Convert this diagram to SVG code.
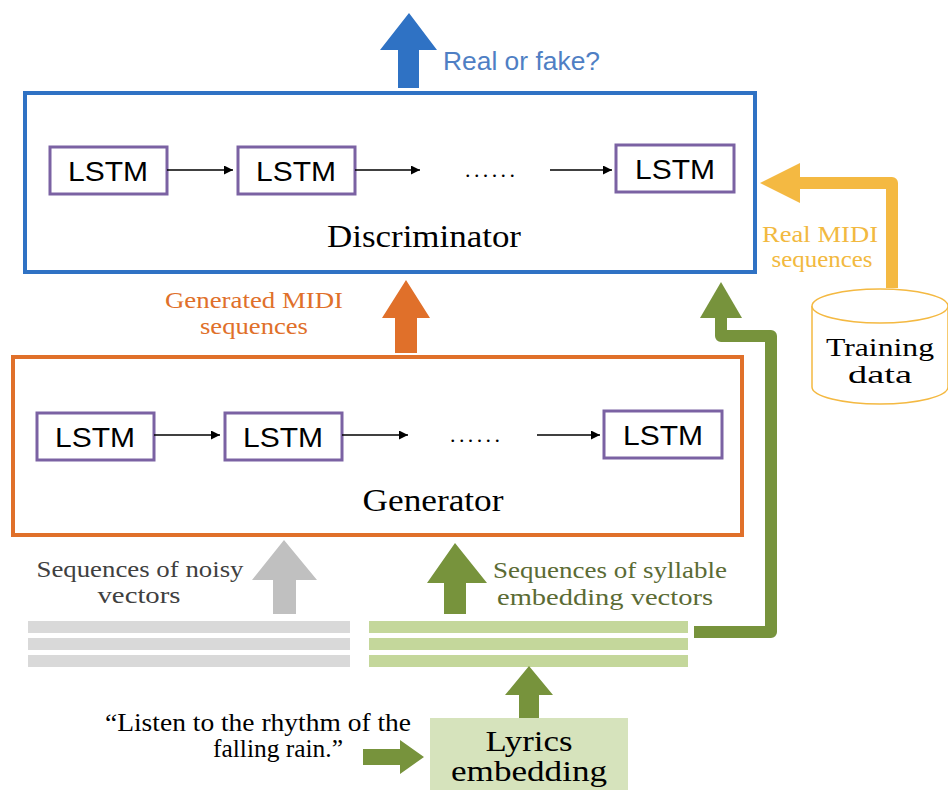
<svg xmlns="http://www.w3.org/2000/svg" width="948" height="790" viewBox="0 0 948 790">
<defs>
<marker id="ah" viewBox="0 0 10 10" refX="10" refY="5" markerWidth="9" markerHeight="9" markerUnits="userSpaceOnUse" orient="auto"><path d="M0,0 L10,5 L0,10 z" fill="#000"/></marker>
</defs>
<style>
.lstm{fill:#fff;stroke:#7b62a3;stroke-width:3}
.lt{font-family:"Liberation Sans",Arial,sans-serif;font-size:28px;fill:#000;text-anchor:middle}
.serif{font-family:"Liberation Serif","Times New Roman",serif}
.conn{stroke:#000;stroke-width:1.5;fill:none}
.dots{font-family:"Liberation Serif",serif;font-size:22px;text-anchor:middle}
.green{fill:#77933c}
.gline{fill:none;stroke:#77933c;stroke-width:12;stroke-linejoin:round}
</style>
<rect width="948" height="790" fill="#fff"/>

<g id="real-or-fake">
<polygon points="398,88 398,50 380,50 409,13 437,50 419,50 419,88" fill="#2f72c4"/>
<text x="443" y="70" font-family="Liberation Sans,Arial,sans-serif" font-size="25" fill="#4f7fc4" textLength="157" lengthAdjust="spacingAndGlyphs">Real or fake?</text>
</g>

<g id="discriminator">
<rect x="25" y="93" width="730" height="179" fill="#fff" stroke="#2f72c4" stroke-width="4"/>
<rect class="lstm" x="50" y="147" width="117" height="47"/><text class="lt" x="108" y="181" textLength="80" lengthAdjust="spacingAndGlyphs">LSTM</text>
<rect class="lstm" x="238" y="147" width="117" height="47"/><text class="lt" x="296" y="181" textLength="80" lengthAdjust="spacingAndGlyphs">LSTM</text>
<text class="dots" x="490" y="177" textLength="50" lengthAdjust="spacing">......</text>
<rect class="lstm" x="616" y="145" width="118" height="47"/><text class="lt" x="675" y="179" textLength="80" lengthAdjust="spacingAndGlyphs">LSTM</text>
<text class="serif" x="424" y="247" font-size="32" text-anchor="middle" textLength="194" lengthAdjust="spacingAndGlyphs">Discriminator</text>
</g>

<g id="generated-midi">
<polygon points="395,353 395,318 382,318 406,280 430,318 417,318 417,353" fill="#e0702a"/>
<text class="serif" x="254" y="308" font-size="23" fill="#e0702a" text-anchor="middle" textLength="178" lengthAdjust="spacingAndGlyphs">Generated MIDI</text>
<text class="serif" x="254" y="334" font-size="23" fill="#e0702a" text-anchor="middle" textLength="108" lengthAdjust="spacingAndGlyphs">sequences</text>
</g>

<g id="generator">
<rect x="13" y="357" width="729" height="178" fill="#fff" stroke="#e0702a" stroke-width="4"/>
<rect class="lstm" x="37" y="413" width="117" height="47"/><text class="lt" x="95" y="447" textLength="80" lengthAdjust="spacingAndGlyphs">LSTM</text>
<rect class="lstm" x="225" y="413" width="117" height="47"/><text class="lt" x="283" y="447" textLength="80" lengthAdjust="spacingAndGlyphs">LSTM</text>
<text class="dots" x="475" y="442" textLength="50" lengthAdjust="spacing">......</text>
<rect class="lstm" x="604" y="411" width="118" height="47"/><text class="lt" x="663" y="445" textLength="80" lengthAdjust="spacingAndGlyphs">LSTM</text>
<text class="serif" x="433" y="511" font-size="32" text-anchor="middle" textLength="141" lengthAdjust="spacingAndGlyphs">Generator</text>
</g>

<g id="noise">
<polygon points="273,614 273,580 252,580 284,540 317,580 296,580 296,614" fill="#c0c0c0"/>
<text class="serif" x="140" y="577" font-size="24" fill="#404040" text-anchor="middle" textLength="207" lengthAdjust="spacingAndGlyphs">Sequences of noisy</text>
<text class="serif" x="139" y="603" font-size="24" fill="#404040" text-anchor="middle" textLength="83" lengthAdjust="spacingAndGlyphs">vectors</text>
<rect x="28" y="621" width="322" height="12" fill="#d9d9d9"/>
<rect x="28" y="638" width="322" height="12" fill="#d9d9d9"/>
<rect x="28" y="655" width="322" height="12" fill="#d9d9d9"/>
</g>

<g id="syllable">
<polygon class="green" points="444,614 444,583 427,583 455,543 487,583 466,583 466,614"/>
<text class="serif" x="610" y="578" font-size="24" fill="#5b6b34" text-anchor="middle" textLength="234" lengthAdjust="spacingAndGlyphs">Sequences of syllable</text>
<text class="serif" x="605" y="605" font-size="24" fill="#5b6b34" text-anchor="middle" textLength="216" lengthAdjust="spacingAndGlyphs">embedding vectors</text>
<rect x="369" y="621" width="319" height="12" fill="#c4d79b"/>
<rect x="369" y="638" width="319" height="12" fill="#c4d79b"/>
<rect x="369" y="655" width="319" height="12" fill="#c4d79b"/>
</g>

<g id="training-data">
<path d="M812,306 V387 A68,17 0 0 0 948,387 V306" fill="#fff" stroke="#f4b942" stroke-width="1.5"/>
<ellipse cx="880" cy="306" rx="68" ry="17" fill="#fff" stroke="#f4b942" stroke-width="1.5"/>
<text class="serif" x="880" y="356" font-size="26" text-anchor="middle" textLength="108" lengthAdjust="spacingAndGlyphs">Training</text>
<text class="serif" x="880" y="383" font-size="26" text-anchor="middle" textLength="64" lengthAdjust="spacingAndGlyphs">data</text>
</g>

<g id="real-midi-label">
<text class="serif" x="820" y="242" font-size="24" fill="#f2b940" text-anchor="middle" textLength="116" lengthAdjust="spacingAndGlyphs">Real MIDI</text>
<text class="serif" x="822" y="267" font-size="24" fill="#f2b940" text-anchor="middle" textLength="101" lengthAdjust="spacingAndGlyphs">sequences</text>
</g>

<g id="lyrics">
<text class="serif" x="258" y="731" font-size="25" text-anchor="middle" textLength="306" lengthAdjust="spacingAndGlyphs">“Listen to the rhythm of  the</text>
<text class="serif" x="278" y="757" font-size="25" text-anchor="middle" textLength="130" lengthAdjust="spacingAndGlyphs">falling rain.”</text>
<rect x="430" y="718" width="198" height="72" fill="#d6e3bc"/>
<text class="serif" x="529" y="751" font-size="30" text-anchor="middle" textLength="87" lengthAdjust="spacingAndGlyphs">Lyrics</text>
<text class="serif" x="529" y="781" font-size="30" text-anchor="middle" textLength="156" lengthAdjust="spacingAndGlyphs">embedding</text>
</g>

<g id="connectors">
<line class="conn" x1="167" y1="170" x2="233" y2="170" marker-end="url(#ah)"/>
<line class="conn" x1="355" y1="170" x2="420" y2="170" marker-end="url(#ah)"/>
<line class="conn" x1="550" y1="170" x2="612" y2="170" marker-end="url(#ah)"/>
<line class="conn" x1="154" y1="435" x2="220" y2="435" marker-end="url(#ah)"/>
<line class="conn" x1="342" y1="435" x2="408" y2="435" marker-end="url(#ah)"/>
<line class="conn" x1="537" y1="435" x2="600" y2="435" marker-end="url(#ah)"/>
<path d="M892,288 V183 H798" fill="none" stroke="#f4b942" stroke-width="12" stroke-linejoin="round"/>
<polygon points="800,163 760,183 800,203" fill="#f4b942"/>
<path class="gline" d="M694,632 H771 V336 H721 V316"/>
<polygon class="green" points="700,318 721,282 742,318"/>
<polygon class="green" points="519,718 519,695 505,695 529,666 553,695 539,695 539,718"/>
<polygon class="green" points="363,749 400,749 400,740 424,757 400,774 400,765 363,765"/>
</g>
</svg>
